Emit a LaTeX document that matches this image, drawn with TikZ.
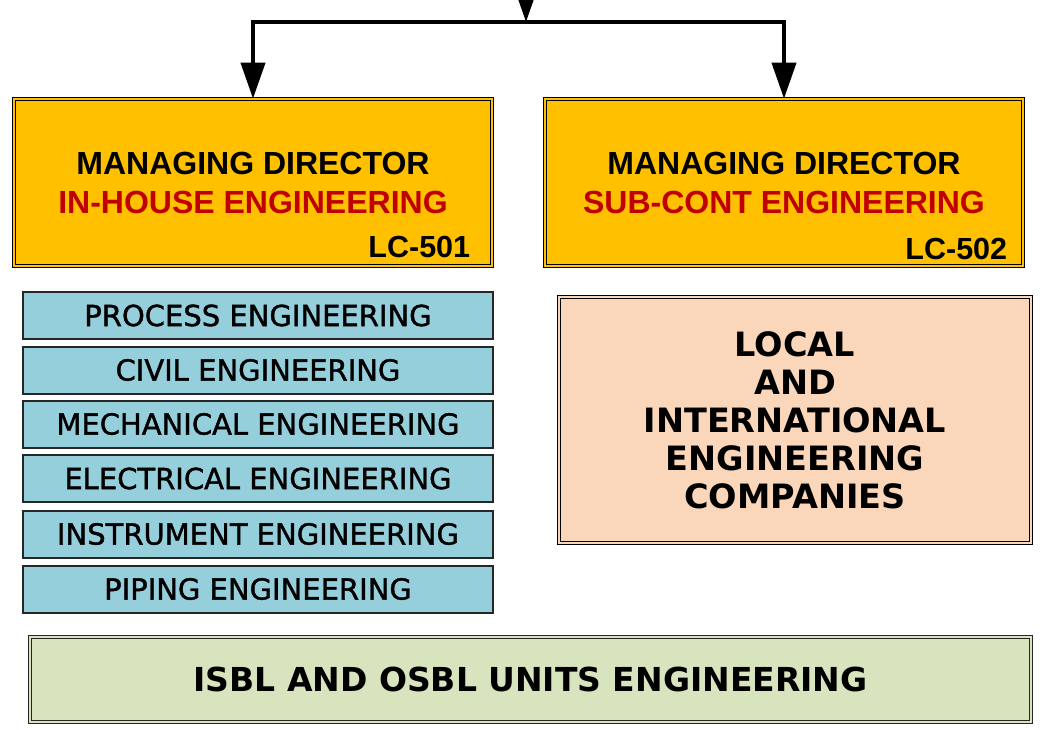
\documentclass[tikz,border=0pt]{standalone}
\usepackage{fontspec}
\setmainfont{Liberation Sans}
\newfontfamily\dvs{DejaVu Sans}
\newfontfamily\dvsheavy{DejaVu Sans}[FakeBold=1.3]
\usetikzlibrary{arrows.meta}
\definecolor{orangefill}{HTML}{FFC000}
\definecolor{redtext}{HTML}{C00000}
\definecolor{bluefill}{HTML}{96CFDC}
\definecolor{peachfill}{HTML}{FAD7BB}
\definecolor{greenfill}{HTML}{D8E4BD}
\begin{document}
\begin{tikzpicture}[x=1pt,y=-1pt,
  mdbox/.style={draw=black, fill=orangefill, double=orangefill, double distance=2pt, line width=1.2pt,
    minimum width=477.5pt, minimum height=166.5pt, inner sep=0pt, align=center,
    font=\fontsize{32}{39}\selectfont\bfseries},
  lclabel/.style={anchor=base east, inner sep=0pt, font=\fontsize{30.5}{32}\selectfont\bfseries},
  discbox/.style={draw=black!85, fill=bluefill, line width=2pt, minimum width=470pt, minimum height=47pt,
    inner sep=0pt, font=\dvsheavy\fontsize{29}{31}\selectfont},
  peachbox/.style={draw=black, fill=peachfill, double=peachfill, double distance=2pt, line width=1.2pt,
    minimum width=471.5pt, minimum height=245.5pt, inner sep=0pt, align=center,
    font=\dvs\bfseries\fontsize{33.5}{38}\selectfont},
  greenbox/.style={draw=black!85, fill=greenfill, double=greenfill, double distance=2pt, line width=1.2pt,
    minimum width=1000.5pt, minimum height=84.5pt, inner sep=0pt,
    font=\dvs\bfseries\fontsize{33}{36}\selectfont},
  conn/.style={line width=4pt, -{Triangle[width=24pt,length=36pt]}}
]
\useasboundingbox (0,0) rectangle (1049,729);
\clip (0,0) rectangle (1049,729);

\node[mdbox] (md1) at (253,182.5) {MANAGING DIRECTOR\\\textcolor{redtext}{IN-HOUSE ENGINEERING}};
\node[mdbox] (md2) at (784,182.5) {MANAGING DIRECTOR\\\textcolor{redtext}{SUB-CONT ENGINEERING}};
\node[lclabel] (lc1) at ([xshift=-22pt,yshift=9pt]md1.south east) {LC-501};
\node[lclabel] (lc2) at ([xshift=-16pt,yshift=7pt]md2.south east) {LC-502};

\node[discbox] (d1) at (258,315.5) {PROCESS ENGINEERING};
\node[discbox] (d2) at (258,370) {CIVIL ENGINEERING};
\node[discbox] (d3) at (258,424) {MECHANICAL ENGINEERING};
\node[discbox] (d4) at (258,478.5) {ELECTRICAL ENGINEERING};
\node[discbox] (d5) at (258,534) {INSTRUMENT ENGINEERING};
\node[discbox] (d6) at (258,589) {PIPING ENGINEERING};

\node[peachbox] (comp) at (795,420) {LOCAL\\AND\\INTERNATIONAL\\ENGINEERING\\COMPANIES};

\node[greenbox] (units) at (530.5,679.5) {ISBL AND OSBL UNITS ENGINEERING};

\coordinate (src) at (526,-40);
\coordinate (junc) at (526,22);
\draw[conn] (src) -- (junc);
\draw[conn] (junc) -| (md1.north);
\draw[conn] (junc) -| (md2.north);
\end{tikzpicture}
\end{document}
